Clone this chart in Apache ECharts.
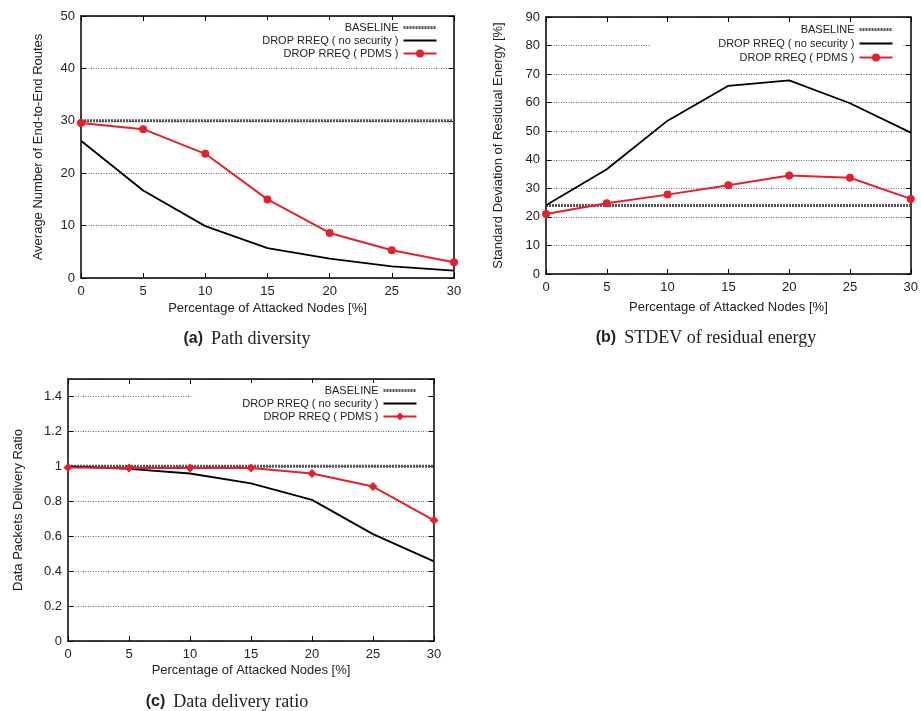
<!DOCTYPE html>
<html><head><meta charset="utf-8">
<script src="https://cdn.jsdelivr.net/npm/echarts@6/dist/echarts.min.js"></script>
<style>html,body{margin:0;padding:0;background:#fff}#c{width:921px;height:711px}</style>
</head><body><div id="c"></div><script>
// ---- data ----
const xValues = [0, 5, 10, 15, 20, 25, 30];
const legendLabels = ['BASELINE', 'DROP RREQ ( no security )', 'DROP RREQ ( PDMS )'];
// (a) Path diversity
const aBaseline = [30, 30, 30, 30, 30, 30, 30];
const aNoSecurity = [26.2, 16.7, 9.9, 5.7, 3.7, 2.2, 1.4];
const aPdms = [29.6, 28.4, 23.7, 15.0, 8.6, 5.3, 3.0];
// (b) STDEV of residual energy
const bBaseline = [24, 24, 24, 24, 24, 24, 24];
const bNoSecurity = [24.1, 36.7, 53.7, 65.9, 67.8, 59.8, 49.5];
const bPdms = [21.0, 24.8, 27.8, 31.1, 34.5, 33.7, 26.3];
// (c) Data delivery ratio
const cBaseline = [1, 1, 1, 1, 1, 1, 1];
const cNoSecurity = [1.0, 0.986, 0.959, 0.903, 0.808, 0.612, 0.456];
const cPdms = [0.993, 0.991, 0.991, 0.991, 0.959, 0.884, 0.691];

const SANS = 'Liberation Sans, Arial, Helvetica, sans-serif';
const SERIF = 'Liberation Serif, Times New Roman, serif';
const RED = '#e3202b';
const pairs = v => xValues.map((x, i) => [x, v[i]]);

const grids = [
  {left: 81, top: 16, width: 373, height: 262},
  {left: 546, top: 17, width: 365, height: 257},
  {left: 68, top: 379, width: 366, height: 262}
];
const yCfg = [
  {min: 0, max: 50, interval: 10, name: 'Average Number of End-to-End Routes', gap: 36, xgap: 24},
  {min: 0, max: 90, interval: 10, name: 'Standard Deviation of Residual Energy [%]', gap: 41, xgap: 27},
  {min: 0, max: 1.5, interval: 0.2, name: 'Data Packets Delivery Ratio', gap: 43, xgap: 23}
];
const axisLine = {show: true, onZero: false, lineStyle: {color: '#000', width: 1.5}};
const tick = {show: true, inside: true, length: 5, lineStyle: {color: '#000', width: 1}};
const lbl = {color: '#222', fontSize: 13, fontFamily: SANS};
const xAxis = [], yAxis = [];
grids.forEach((g, i) => {
  xAxis.push({gridIndex: i, type: 'value', min: 0, max: 30, interval: 5, position: 'bottom',
    axisLine, axisTick: tick, splitLine: {show: false},
    axisLabel: Object.assign({margin: 7}, lbl),
    name: 'Percentage of Attacked Nodes [%]', nameLocation: 'middle', nameGap: yCfg[i].xgap,
    nameTextStyle: {color: '#222', fontSize: 13, fontFamily: SANS}});
  xAxis.push({gridIndex: i, type: 'value', min: 0, max: 30, interval: 5, position: 'top',
    axisLine, axisTick: tick, axisLabel: {show: false}, splitLine: {show: false}});
  const y = yCfg[i];
  yAxis.push({gridIndex: i, type: 'value', min: y.min, max: y.max, interval: y.interval, position: 'left',
    axisLine, axisTick: tick,
    axisLabel: Object.assign({margin: 6, showMaxLabel: i !== 2}, lbl),
    splitLine: {show: true, lineStyle: {type: [1, 1.5], color: '#666', width: 1}},
    name: y.name, nameLocation: 'middle', nameGap: y.gap,
    nameTextStyle: {color: '#222', fontSize: 13, fontFamily: SANS}});
  yAxis.push({gridIndex: i, type: 'value', min: y.min, max: y.max, interval: y.interval, position: 'right',
    axisLine, axisTick: tick, axisLabel: {show: false}, splitLine: {show: false}});
});

const sets = [
  ['a', aBaseline, aNoSecurity, aPdms, 'circle', 8],
  ['b', bBaseline, bNoSecurity, bPdms, 'circle', 8],
  ['c', cBaseline, cNoSecurity, cPdms, 'diamond', 9]
];
const series = [];
sets.forEach(([k, base, nosec, pdms, sym, ss], i) => {
  const ax = {xAxisIndex: i * 2, yAxisIndex: i * 2, animation: false};
  series.push(Object.assign({type: 'line', name: k + '_0', data: pairs(base), symbol: 'none',
    lineStyle: {color: '#555', width: 3, type: [2, 1]}, itemStyle: {color: '#555'}, z: 2}, ax));
  series.push(Object.assign({type: 'line', name: k + '_1', data: pairs(nosec), symbol: 'none',
    lineStyle: {color: '#000', width: 1.8}, itemStyle: {color: '#000'}, z: 3}, ax));
  series.push(Object.assign({type: 'line', name: k + '_2', data: pairs(pdms), symbol: sym, symbolSize: ss,
    lineStyle: {color: RED, width: 2}, itemStyle: {color: RED}, z: 4}, ax));
});

const legPos = [
  {right: 474, top: 20, itemGap: 2, padding: [2, 9, 2, 50]},
  {right: 18, top: 22, itemGap: 3, padding: [2, 9, 2, 68]},
  {right: 494, top: 383, itemGap: 2, padding: [2, 9, 2, 49]}
];
const legend = sets.map(([k], i) => Object.assign({
  orient: 'vertical', align: 'right', backgroundColor: '#fff',
  itemWidth: 33, itemHeight: 10, selectedMode: false,
  data: [
    {name: k + '_0', itemStyle: {opacity: 0}, lineStyle: {width: 3, color: '#555', type: [2, 1]}},
    {name: k + '_1', itemStyle: {opacity: 0}, lineStyle: {width: 2, color: '#000'}},
    {name: k + '_2', lineStyle: {width: 2, color: RED}}
  ],
  formatter: n => legendLabels[+n.split('_')[1]],
  textStyle: {color: '#222', fontSize: 11, lineHeight: 10, fontFamily: SANS}
}, legPos[i]));

const caption = (x, y, tag, txt) => ({type: 'text', x, y, style: {
  text: '{b|' + tag + '}{s|' + txt + '}', align: 'center', verticalAlign: 'middle',
  rich: {b: {fontFamily: SANS, fontWeight: 'bold', fontSize: 16, fill: '#222', padding: [0, 8, 0, 0]},
         s: {fontFamily: SERIF, fontSize: 18, fill: '#222'}}}});

const chart = echarts.init(document.getElementById('c'), null, {renderer: 'canvas'});
chart.setOption({
  animation: false,
  grid: grids, xAxis, yAxis, series, legend,
  graphic: [
    caption(247, 339, '(a)', 'Path diversity'),
    caption(706, 338, '(b)', 'STDEV of residual energy'),
    caption(227, 702, '(c)', 'Data delivery ratio')
  ]
});
</script></body></html>
